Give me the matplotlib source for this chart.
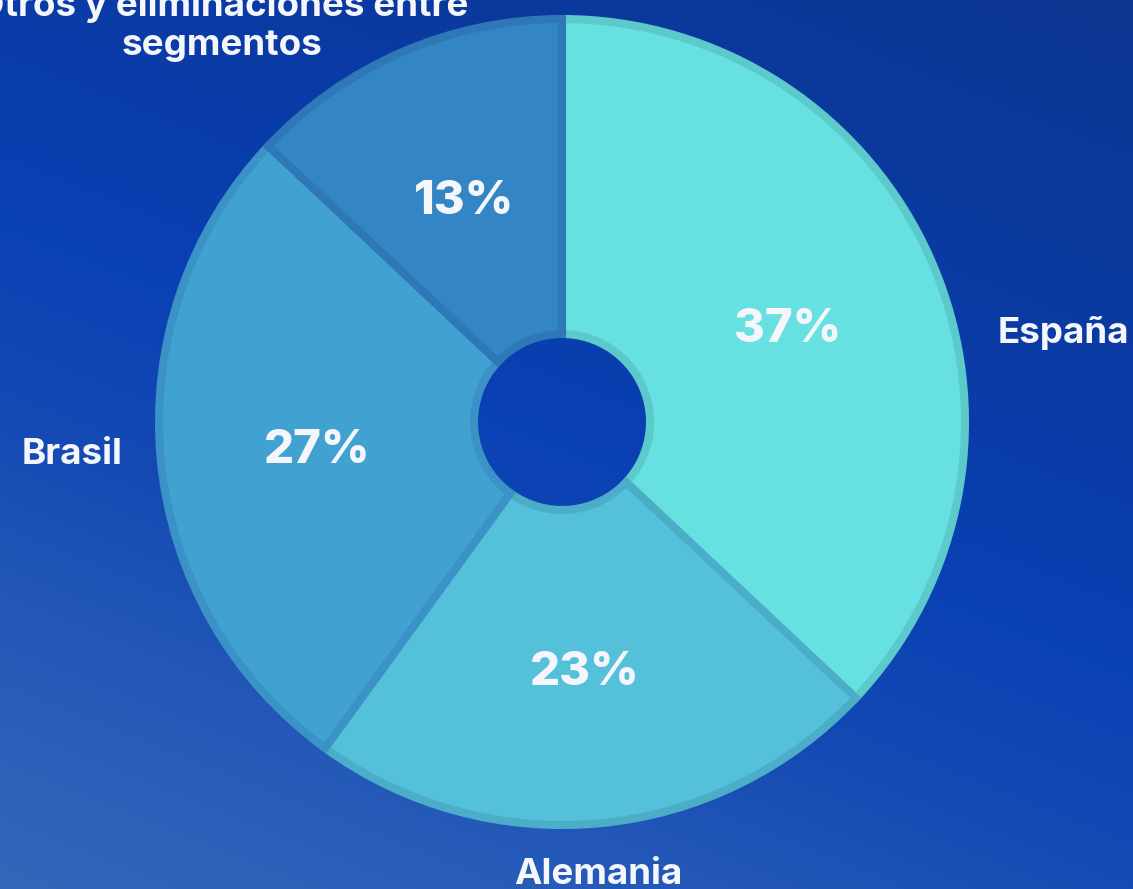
import numpy as np
import matplotlib
matplotlib.use("Agg")
import matplotlib.pyplot as plt
import matplotlib.transforms as mtransforms
from matplotlib.colors import LinearSegmentedColormap

# ---- data ----
categories = ["España", "Alemania", "Brasil", "Otros y eliminaciones entre\nsegmentos"]
values = [37, 23, 27, 13]
face_colors = ["#66e0e1", "#55c0d9", "#41a2d2", "#3385c4"]
edge_colors = ["#5cc9cb", "#4cadc9", "#3a92c6", "#2e78b7"]

W, H = 1133, 889
fig = plt.figure(figsize=(W / 100, H / 100), dpi=100)
ax = fig.add_axes([0, 0, 1, 1])

# background gradient (top-right dark -> bottom-left lighter)
yy, xx = np.mgrid[0:H:2, 0:W:2]
proj = (W - xx) * 0.4 + yy
proj = proj / proj.max()
bg = LinearSegmentedColormap.from_list(
    "bg", [(0.0, "#0b3590"), (0.34, "#0a3ca8"), (0.49, "#0940b4"),
           (0.66, "#164bb4"), (0.78, "#2257b8"), (1.0, "#3467ba")])
ax.imshow(proj, cmap=bg, extent=(0, W, 0, H), origin="upper", zorder=0,
          aspect="auto", interpolation="bilinear")

cx, cy = 562, H - 422
R = 403
inner = 88
wedges, texts, autotexts = ax.pie(
    values, colors=face_colors, startangle=90, counterclock=False,
    center=(cx, cy), radius=R, autopct="%.0f%%", pctdistance=0.61,
    wedgeprops=dict(width=R - inner, linewidth=5.8, joinstyle="miter"),
    textprops=dict(color="#f5f6fc", fontsize=34, fontweight="heavy", family="Inter"),
    frame=True)
for w, ec in zip(wedges, edge_colors):
    w.set_edgecolor(ec)
    w.set_zorder(2)
shift = mtransforms.offset_copy(ax.transData, fig=fig, x=0, y=-6, units="dots")
for t in autotexts:
    t.set_zorder(5)
    t.set_transform(shift)

# category labels
label_pos = [(998, 333, "left"), (598, 874, "center"), (72, 455, "center"), (222, 25, "center")]
for (px, py, ha), name in zip(label_pos, categories):
    ax.text(px, H - py, name, ha=ha, va="center", color="#f5f6fc", fontsize=26.5,
            fontweight="bold", family="Inter", linespacing=1.2, zorder=5)

ax.set_xlim(0, W)
ax.set_ylim(0, H)
ax.set_aspect("auto")
ax.axis("off")
fig.savefig("out.png", dpi=100)
